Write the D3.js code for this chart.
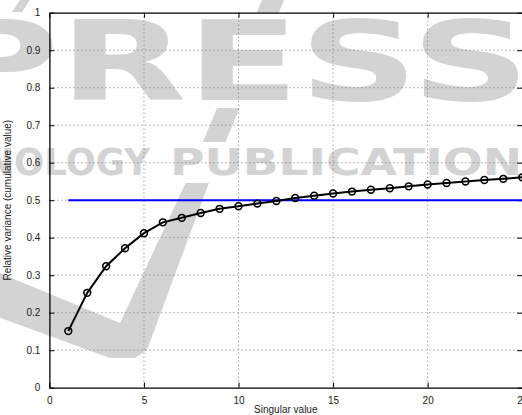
<!DOCTYPE html>
<html>
<head>
<meta charset="utf-8">
<script src="https://cdn.jsdelivr.net/npm/d3@7"></script>
<style>
  body { margin: 0; padding: 0; background: #fff; }
  svg { display: block; }
</style>
</head>
<body>
<div id="chart"></div>
<script>
// values
var singular = [1, 2, 3, 4, 5, 6, 7, 8, 9, 10, 11, 12, 13, 14, 15, 16, 17, 18, 19, 20, 21, 22, 23, 24, 25];
var cumVariance = [0.151, 0.253, 0.324, 0.372, 0.412, 0.441, 0.453, 0.466, 0.477, 0.484, 0.491, 0.498, 0.506,
                   0.512, 0.518, 0.523, 0.528, 0.532, 0.537, 0.542, 0.546, 0.550, 0.554, 0.557, 0.561];
var thresholdX = [1, 25];
var thresholdY = [0.5, 0.5];
var xTicks = [0, 5, 10, 15, 20, 25];
var yTicks = [0, 0.1, 0.2, 0.3, 0.4, 0.5, 0.6, 0.7, 0.8, 0.9, 1];

var draw_chart = function() {

    var W = 522, H = 415;
    var mLeft = 49.4, mTop = 12.7, w = 472.8, h = 375;
    var grey = "#d3d3d3";

    var svg = d3.select("#chart")
        .append("svg")
        .attr("width", W)
        .attr("height", H)
        .attr("id", "svgMain");

    // watermark (drawn first, under the plot)
    var wm = svg.append("g").attr("id", "watermark");

    var clip = svg.append("defs").append("clipPath").attr("id", "checkclip");
    clip.append("rect").attr("x", -20).attr("y", -5).attr("width", 600).attr("height", 18);
    clip.append("rect").attr("x", -20).attr("y", 108).attr("width", 600).attr("height", 34);
    clip.append("rect").attr("x", -20).attr("y", 183).attr("width", 600).attr("height", 240);

    var check = [[-10, 269], [120, 323], [187, 180], [262, 0], [284, 0], [210, 180], [147, 350],
                 [135, 358], [110, 358], [-10, 314]];
    wm.append("path")
        .attr("d", d3.line()(check) + "Z")
        .attr("fill", grey)
        .attr("clip-path", "url(#checkclip)");
    wm.append("path")
        .attr("d", d3.line()([[20, 0], [30, 0], [22, 12], [12, 12]]) + "Z")
        .attr("fill", grey);

    wm.append("text")
        .attr("x", -62).attr("y", 100)
        .attr("font-family", "DejaVu Sans")
        .attr("font-weight", "bold")
        .attr("font-size", 110)
        .attr("textLength", 592)
        .attr("lengthAdjust", "spacingAndGlyphs")
        .attr("fill", grey)
        .text("PRESS");
    wm.append("text")
        .attr("x", -120).attr("y", 175)
        .attr("font-family", "DejaVu Sans")
        .attr("font-weight", "bold")
        .attr("font-size", 37)
        .attr("textLength", 270)
        .attr("lengthAdjust", "spacingAndGlyphs")
        .attr("fill", grey)
        .text("TECHNOLOGY");
    wm.append("text")
        .attr("x", 170).attr("y", 175)
        .attr("font-family", "DejaVu Sans")
        .attr("font-weight", "bold")
        .attr("font-size", 37)
        .attr("textLength", 386)
        .attr("lengthAdjust", "spacingAndGlyphs")
        .attr("fill", grey)
        .text("PUBLICATIONS");

    var x = d3.scaleLinear().domain([0, 25]).range([mLeft, mLeft + w]);
    var y = d3.scaleLinear().domain([0, 1]).range([mTop + h, mTop]);

    // dotted grid
    var grid = svg.append("g").attr("id", "grid");
    grid.selectAll(".vg")
        .data(xTicks.filter(function(d) { return d > 0 && d < 25; }))
        .enter().append("line")
        .attr("x1", function(d) { return x(d); })
        .attr("x2", function(d) { return x(d); })
        .attr("y1", mTop).attr("y2", mTop + h)
        .attr("stroke", "#777").attr("stroke-width", 1)
        .attr("stroke-dasharray", "1,3");
    grid.selectAll(".hg")
        .data(yTicks.filter(function(d) { return d > 0 && d < 1; }))
        .enter().append("line")
        .attr("y1", function(d) { return y(d); })
        .attr("y2", function(d) { return y(d); })
        .attr("x1", mLeft).attr("x2", mLeft + w)
        .attr("stroke", "#777").attr("stroke-width", 1)
        .attr("stroke-dasharray", "1,3");

    // axes, ticks pointing inward like matlab
    var fmt = function(d) { return d3.format("")(d); };
    var axB = svg.append("g").attr("transform", "translate(0," + (mTop + h) + ")")
        .call(d3.axisBottom(x).tickValues(xTicks).tickSizeInner(-5).tickSizeOuter(0).tickPadding(9).tickFormat(fmt));
    var axT = svg.append("g").attr("transform", "translate(0," + mTop + ")")
        .call(d3.axisTop(x).tickValues(xTicks).tickSizeInner(-5).tickSizeOuter(0).tickFormat(""));
    var axL = svg.append("g").attr("transform", "translate(" + mLeft + ",0)")
        .call(d3.axisLeft(y).tickValues(yTicks).tickSizeInner(-5).tickSizeOuter(0).tickPadding(9).tickFormat(fmt));
    var axR = svg.append("g").attr("transform", "translate(" + (mLeft + w) + ",0)")
        .call(d3.axisRight(y).tickValues(yTicks).tickSizeInner(-5).tickSizeOuter(0).tickFormat(""));

    [axB, axT, axL, axR].forEach(function(a) {
        a.selectAll("path").attr("stroke", "#000").attr("stroke-width", 1.3);
        a.selectAll("line").attr("stroke", "#000");
        a.selectAll("text")
            .attr("font-family", "Liberation Sans, Arial, sans-serif")
            .attr("font-size", 10)
            .attr("fill", "#222");
    });

    // threshold line
    var line = d3.line()
        .x(function(d) { return x(d[0]); })
        .y(function(d) { return y(d[1]); });

    svg.append("path")
        .datum(d3.zip(thresholdX, thresholdY))
        .attr("d", line)
        .attr("fill", "none")
        .attr("stroke", "#0000ff")
        .attr("stroke-width", 2);

    // cumulative variance
    var pts = d3.zip(singular, cumVariance);
    svg.append("path")
        .datum(pts)
        .attr("d", line)
        .attr("fill", "none")
        .attr("stroke", "#000")
        .attr("stroke-width", 2);

    svg.selectAll(".mark")
        .data(pts)
        .enter().append("circle")
        .attr("class", "mark")
        .attr("cx", function(d) { return x(d[0]); })
        .attr("cy", function(d) { return y(d[1]); })
        .attr("r", 3.4)
        .attr("fill", "none")
        .attr("stroke", "#000")
        .attr("stroke-width", 1.6);

    // labels
    svg.append("text")
        .attr("x", mLeft + w / 2)
        .attr("y", 413)
        .attr("text-anchor", "middle")
        .attr("font-family", "Liberation Sans, Arial, sans-serif")
        .attr("font-size", 10)
        .attr("fill", "#222")
        .text("Singular value");

    svg.append("text")
        .attr("transform", "translate(11," + (mTop + h / 2) + ") rotate(-90)")
        .attr("text-anchor", "middle")
        .attr("font-family", "Liberation Sans, Arial, sans-serif")
        .attr("font-size", 10)
        .attr("fill", "#222")
        .text("Relative variance (cumulative value)");
}

draw_chart();
</script>
</body>
</html>
